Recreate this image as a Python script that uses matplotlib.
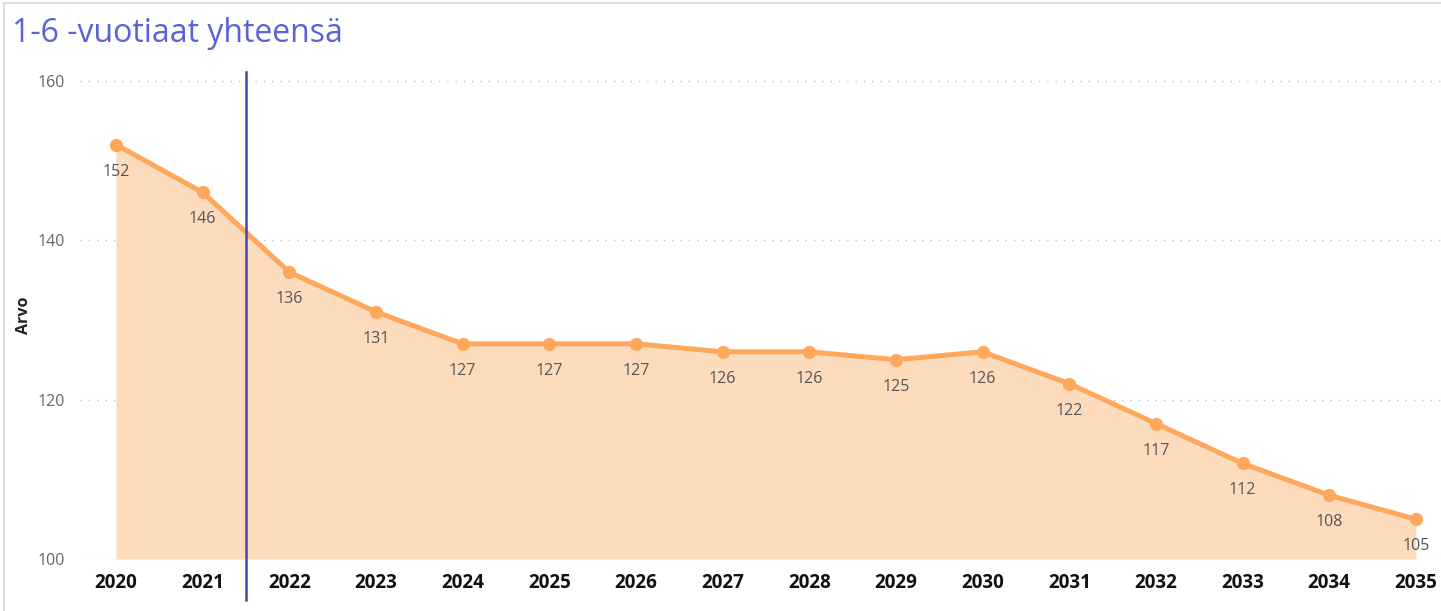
import matplotlib
matplotlib.use("Agg")
import matplotlib.pyplot as plt
from matplotlib.lines import Line2D

# data
years = [2020, 2021, 2022, 2023, 2024, 2025, 2026, 2027,
         2028, 2029, 2030, 2031, 2032, 2033, 2034, 2035]
values = [152, 146, 136, 131, 127, 127, 127, 126,
          126, 125, 126, 122, 117, 112, 108, 105]
y_ticks = [100, 120, 140, 160]
marker_year = 2021.5
title = "1-6 -vuotiaat yhteensä"

plt.rcParams['font.family'] = ['Open Sans', 'DejaVu Sans']

fig = plt.figure(figsize=(14.41, 6.11), dpi=100)
ax = fig.add_axes([0.0555, 0.0851, 0.9445, 0.797])

line_col = '#FFA85C'
fill_col = '#FDDCBE'

ax.fill_between(years, 100, values, color=fill_col, lw=0, zorder=1)
ax.plot(years, values, color=line_col, lw=3.6, marker='o', ms=8.5,
        solid_capstyle='round', zorder=3)

for x, v in zip(years, values):
    ax.annotate(str(v), (x, v), xytext=(0, -19.5), textcoords='offset points',
                ha='center', va='center', fontsize=11.5, color='#555555', zorder=4)

# vertical marker line, runs below the axis
ax.plot([marker_year, marker_year], [-0.084, 1.0], color='#3F4BA8', lw=1.8,
        transform=ax.get_xaxis_transform(), clip_on=False, zorder=5)

ax.set_xlim(2019.585, 2035.29)
ax.set_ylim(100, 161.1)
ax.set_xticks(years)
ax.set_xticklabels([str(y) for y in years], fontsize=13.5, fontweight='bold', color='#111111')
ax.set_yticks(y_ticks)
ax.set_yticklabels([str(t) for t in y_ticks], fontsize=11.5, color='#666666')
ax.tick_params(axis='both', length=0)
ax.tick_params(axis='x', pad=10)
ax.tick_params(axis='y', pad=11)

ax.grid(axis='y', linestyle=(0, (1, 5)), color='#BBBBBB', lw=1.0, zorder=0)
ax.set_axisbelow(True)
for s in ax.spines.values():
    s.set_visible(False)

ax.set_ylabel('Arvo', fontsize=11.5, fontweight='bold', color='#222222', labelpad=4)

fig.text(0.008, 0.945, title, fontsize=23, color='#5B62D6', ha='left', va='center')

# light frame on the left and top
fig.add_artist(Line2D([0.003, 0.003], [0, 0.995], color='#DDDDDD', lw=1.5,
                      transform=fig.transFigure))
fig.add_artist(Line2D([0.003, 1.0], [0.995, 0.995], color='#DDDDDD', lw=1.5,
                      transform=fig.transFigure))

fig.savefig('out.png', dpi=100)
